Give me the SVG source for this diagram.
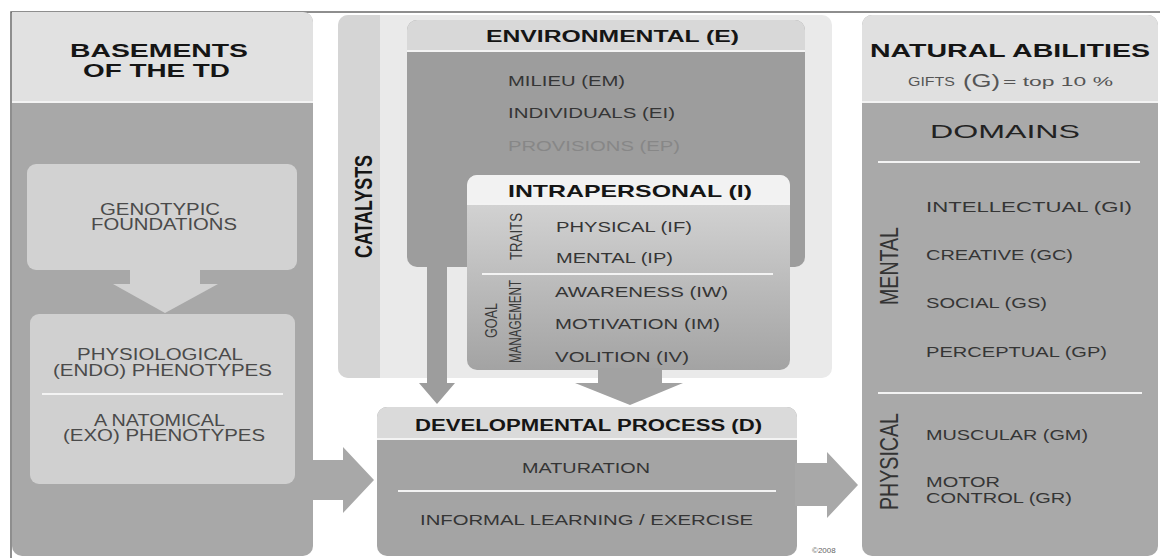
<svg xmlns="http://www.w3.org/2000/svg" width="1160" height="558" viewBox="0 0 1160 558">
<style>
text{font-family:"Liberation Sans",Arial,sans-serif;}
.hb{font-weight:bold;fill:#151515;}
.it{font-size:15px;fill:#353535;}
.lt{font-size:16px;fill:#4a4a4a;}
.sep{stroke:#f3f3f3;stroke-width:2;}
.arr{fill:#a8a8a8;}
</style>
<defs>
<linearGradient id="intraBody" x1="0" y1="0" x2="0" y2="1">
<stop offset="0" stop-color="#dadada"/>
<stop offset="1" stop-color="#a3a3a3"/>
</linearGradient>
</defs>
<rect width="1160" height="558" fill="#ffffff"/>

<g id="frame">
<path d="M11,558 V12 H1160" fill="none" stroke="#6a6a6a" stroke-width="1.5"/>
</g>

<g id="basements">
<rect x="12" y="12" width="301" height="544" rx="10" fill="#a8a8a8"/>
<path d="M12,101 V12 H303 A10,10 0 0 1 313,22 V101 Z" fill="#e1e1e1"/>
<line class="sep" x1="12" y1="102" x2="313" y2="102"/>
<text class="hb" x="70" y="57" font-size="19" textLength="178" lengthAdjust="spacingAndGlyphs">BASEMENTS</text>
<text class="hb" x="83" y="77" font-size="19" textLength="147" lengthAdjust="spacingAndGlyphs">OF THE TD</text>
</g>

<g id="genotypic">
<rect x="27" y="164" width="270" height="106" rx="9" fill="#d2d2d2"/>
<text class="lt" x="100" y="215" textLength="120" lengthAdjust="spacingAndGlyphs">GENOTYPIC</text>
<text class="lt" x="91" y="230" textLength="146" lengthAdjust="spacingAndGlyphs">FOUNDATIONS</text>
</g>

<g id="phenotypes">
<rect x="30" y="314" width="265" height="170" rx="9" fill="#d0d0d0"/>
<line class="sep" x1="42" y1="394" x2="283" y2="394"/>
<text class="lt" x="77" y="360" textLength="166" lengthAdjust="spacingAndGlyphs">PHYSIOLOGICAL</text>
<text class="lt" x="53" y="376" textLength="219" lengthAdjust="spacingAndGlyphs">(ENDO) PHENOTYPES</text>
<text class="lt" x="94" y="426" textLength="131" lengthAdjust="spacingAndGlyphs">A NATOMICAL</text>
<text class="lt" x="63" y="441" textLength="202" lengthAdjust="spacingAndGlyphs">(EXO) PHENOTYPES</text>
</g>

<g id="catalysts">
<rect x="338" y="15" width="494" height="363" rx="10" fill="#eaeaea"/>
<path d="M380,15 H348 A10,10 0 0 0 338,25 V368 A10,10 0 0 0 348,378 H380 Z" fill="#d5d5d5"/>
<text class="hb" transform="translate(372,206.5) rotate(-90)" x="-51.5" y="0" font-size="23" fill="#252525" textLength="103" lengthAdjust="spacingAndGlyphs">CATALYSTS</text>
</g>

<g id="environmental">
<rect x="407" y="20" width="398" height="247" rx="10" fill="#9d9d9d"/>
<path d="M407,50 V30 A10,10 0 0 1 417,20 H795 A10,10 0 0 1 805,30 V50 Z" fill="#d8d8d8"/>
<line class="sep" x1="407" y1="51" x2="805" y2="51"/>
<text class="hb" x="486" y="42" font-size="16" textLength="253" lengthAdjust="spacingAndGlyphs">ENVIRONMENTAL (E)</text>
<text class="it" x="508" y="86" textLength="117" lengthAdjust="spacingAndGlyphs">MILIEU (EM)</text>
<text class="it" x="508" y="118" textLength="167" lengthAdjust="spacingAndGlyphs">INDIVIDUALS (EI)</text>
<text class="it" x="508" y="151" fill="#878787" style="fill:#878787" textLength="172" lengthAdjust="spacingAndGlyphs">PROVISIONS (EP)</text>
</g>

<g id="intrapersonal">
<rect x="467" y="175" width="323" height="195" rx="10" fill="url(#intraBody)"/>
<path d="M467,203 V185 A10,10 0 0 1 477,175 H780 A10,10 0 0 1 790,185 V203 Z" fill="#f2f2f2"/>
<line class="sep" x1="467" y1="204" x2="790" y2="204"/>
<line class="sep" x1="482" y1="274" x2="773" y2="274"/>
<text class="hb" x="508" y="197" font-size="17" textLength="244" lengthAdjust="spacingAndGlyphs">INTRAPERSONAL (I)</text>
<text transform="translate(522,236.5) rotate(-90)" x="-23.5" y="0" font-size="17" fill="#3a3a3a" textLength="47" lengthAdjust="spacingAndGlyphs">TRAITS</text>
<text class="it" x="556" y="232" textLength="136" lengthAdjust="spacingAndGlyphs">PHYSICAL (IF)</text>
<text class="it" x="556" y="263" textLength="117" lengthAdjust="spacingAndGlyphs">MENTAL (IP)</text>
<text transform="translate(497,320.5) rotate(-90)" x="-17.5" y="0" font-size="16" fill="#3a3a3a" textLength="35" lengthAdjust="spacingAndGlyphs">GOAL</text>
<text transform="translate(521,321.5) rotate(-90)" x="-41.5" y="0" font-size="16" fill="#3a3a3a" textLength="83" lengthAdjust="spacingAndGlyphs">MANAGEMENT</text>
<text class="it" x="555" y="297" textLength="173" lengthAdjust="spacingAndGlyphs">AWARENESS (IW)</text>
<text class="it" x="555" y="329" textLength="165" lengthAdjust="spacingAndGlyphs">MOTIVATION (IM)</text>
<text class="it" x="555" y="362" textLength="134" lengthAdjust="spacingAndGlyphs">VOLITION (IV)</text>
</g>

<g id="developmental">
<rect x="377" y="407" width="420" height="149" rx="10" fill="#a4a4a4"/>
<path d="M377,438 V417 A10,10 0 0 1 387,407 H787 A10,10 0 0 1 797,417 V438 Z" fill="#dadada"/>
<line class="sep" x1="377" y1="439" x2="797" y2="439"/>
<line class="sep" x1="398" y1="491" x2="776" y2="491"/>
<text class="hb" x="415" y="431" font-size="16" textLength="347" lengthAdjust="spacingAndGlyphs">DEVELOPMENTAL PROCESS (D)</text>
<text class="it" x="522" y="473" textLength="128" lengthAdjust="spacingAndGlyphs">MATURATION</text>
<text class="it" x="420" y="525" textLength="333" lengthAdjust="spacingAndGlyphs">INFORMAL LEARNING / EXERCISE</text>
</g>

<g id="natural-abilities">
<rect x="862" y="15" width="296" height="541" rx="10" fill="#a9a9a9"/>
<path d="M862,101 V25 A10,10 0 0 1 872,15 H1148 A10,10 0 0 1 1158,25 V101 Z" fill="#e0e0e0"/>
<line class="sep" x1="862" y1="102" x2="1158" y2="102"/>
<line class="sep" x1="878" y1="162" x2="1140" y2="162"/>
<line class="sep" x1="878" y1="393" x2="1142" y2="393"/>
<text class="hb" x="870" y="57" font-size="19" textLength="280" lengthAdjust="spacingAndGlyphs">NATURAL ABILITIES</text>
<text x="908" y="86" font-size="13" fill="#555" textLength="47" lengthAdjust="spacingAndGlyphs">GIFTS</text>
<text x="963" y="87" font-size="19" fill="#555" textLength="37" lengthAdjust="spacingAndGlyphs">(G)</text>
<text x="1003" y="86" font-size="13" fill="#555" textLength="110" lengthAdjust="spacingAndGlyphs">= top 10 %</text>
<text x="930" y="138" font-size="18" fill="#222" textLength="150" lengthAdjust="spacingAndGlyphs">DOMAINS</text>
<text transform="translate(898,266) rotate(-90)" x="-39" y="0" font-size="25" fill="#333" textLength="78" lengthAdjust="spacingAndGlyphs">MENTAL</text>
<text class="it" x="926" y="212" textLength="206" lengthAdjust="spacingAndGlyphs">INTELLECTUAL (GI)</text>
<text class="it" x="926" y="260" textLength="147" lengthAdjust="spacingAndGlyphs">CREATIVE (GC)</text>
<text class="it" x="926" y="308" textLength="121" lengthAdjust="spacingAndGlyphs">SOCIAL (GS)</text>
<text class="it" x="926" y="357" textLength="181" lengthAdjust="spacingAndGlyphs">PERCEPTUAL (GP)</text>
<text transform="translate(898,461.5) rotate(-90)" x="-48.5" y="0" font-size="25" fill="#333" textLength="97" lengthAdjust="spacingAndGlyphs">PHYSICAL</text>
<text class="it" x="926" y="440" textLength="162" lengthAdjust="spacingAndGlyphs">MUSCULAR (GM)</text>
<text class="it" x="926" y="487" textLength="74" lengthAdjust="spacingAndGlyphs">MOTOR</text>
<text class="it" x="926" y="503" textLength="146" lengthAdjust="spacingAndGlyphs">CONTROL (GR)</text>
</g>

<g id="connectors">
<polygon points="130,268 200,268 200,284 218,284 165,313 113,284 130,284" fill="#d2d2d2"/>
<polygon class="arr" points="311,460 343,460 343,447 374,480 343,513 343,500 311,500"/>
<polygon points="427,265 447,265 447,383 455,383 437,404 419,383 427,383" fill="#9d9d9d"/>
<polygon points="598,368 662,368 662,383 683,383 630,405 575,383 598,383" fill="#a2a2a2"/>
<polygon class="arr" points="795,463 827,463 827,452 858,485 827,518 827,506 795,506"/>
</g>

<g id="copyright">
<text x="812" y="553" font-size="8" fill="#666">©2008</text>
</g>
</svg>
